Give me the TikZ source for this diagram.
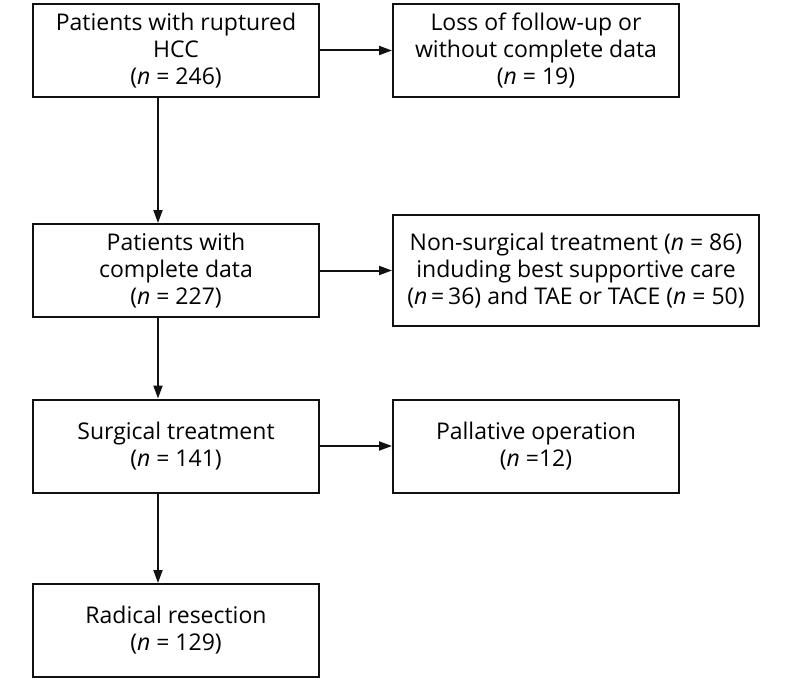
\documentclass[tikz,border=0pt]{standalone}
\usepackage{fontspec}
\setmainfont{Open Sans}
\usetikzlibrary{arrows.meta}
\definecolor{ink}{HTML}{111111}
\tikzset{
  flow/.style={-{Triangle[length=13bp,width=9bp]},draw=ink,line width=2bp},
  box/.style={draw=ink,line width=2bp,fill=white,align=center,inner sep=4bp,
    minimum width=286bp,minimum height=93bp,
    font=\fontsize{23bp}{27bp}\selectfont},
  widebox/.style={box,minimum width=366bp,minimum height=111bp},
}
\newcommand{\nn}{\textit{n}}
\begin{document}
\begin{tikzpicture}[x=1bp,y=-1bp]
\useasboundingbox (0,0) rectangle (794,679);
\node[box] (ruptured) at (176,50.5) {Patients with ruptured\\HCC\\(\nn{} = 246)};
\node[box] (lost) at (536,50.5) {Loss of follow-up or\\without complete data\\(\nn{} = 19)};
\node[box] (complete) at (176,270.5) {Patients with\\complete data\\(\nn{} = 227)};
\node[widebox] (nonsurg) at (576,270.5) {Non-surgical treatment (\nn{} = 86)\\induding best supportive care\\(\nn{}\,=\,36) and TAE or TACE (\nn{} = 50)};
\node[box] (surgical) at (176,446) {Surgical treatment\\(\nn{} = 141)};
\node[box] (palliative) at (536,446) {Pallative operation\\(\nn{} =12)};
\node[box] (radical) at (176,630.5) {Radical resection\\(\nn{} = 129)};
\draw[flow] (ruptured) -- (lost);
\draw[flow] (complete) -- (nonsurg);
\draw[flow] (surgical) -- (palliative);
\draw[flow] ([xshift=-18bp]ruptured.south) -- ([xshift=-18bp]complete.north);
\draw[flow] ([xshift=-18bp]complete.south) -- ([xshift=-18bp]surgical.north);
\draw[flow] ([xshift=-18bp]surgical.south) -- ([xshift=-18bp]radical.north);
\end{tikzpicture}
\end{document}
